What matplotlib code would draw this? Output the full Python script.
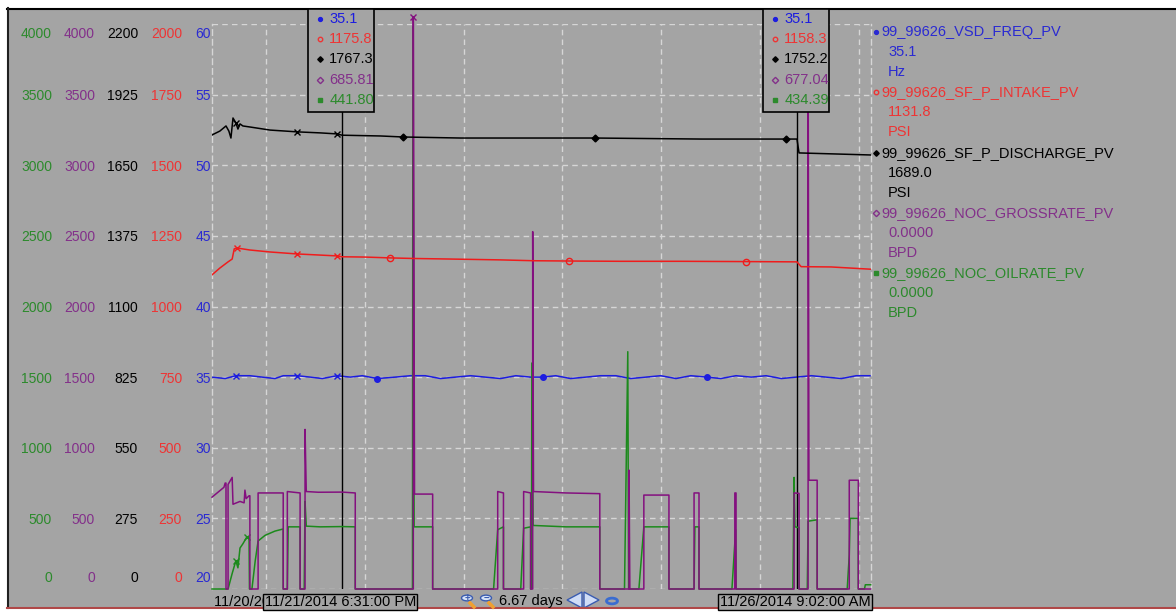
import numpy as np
import matplotlib
matplotlib.use('Agg')
import matplotlib.pyplot as plt
import matplotlib.dates as mdates
from matplotlib.patches import Rectangle, Polygon, Circle
from matplotlib.lines import Line2D
from matplotlib.transforms import ScaledTranslation, Bbox

plt.rcParams['font.family'] = ['Liberation Sans', 'DejaVu Sans']

W, H = 1176, 612
BG = '#a4a4a4'
GRID = '#d6d6d6'
BLUE, RED, BLACK, PURPLE, GREEN = '#1c1ce0', '#f01c1c', '#000000', '#84107f', '#1c8a1c'
BLUE_T, RED_T, PURPLE_T, GREEN_T = '#2a2ad2', '#ee3434', '#83308a', '#2c8a2c'

# time window
start = np.datetime64('2014-11-20T10:53')
span_days = 6.67
cursors = [np.datetime64('2014-11-21T18:31'), np.datetime64('2014-11-26T09:02')]
cursor_labels = ['11/21/2014 6:31:00 PM', '11/26/2014 9:02:00 AM']
start_label = '11/20/2014 10:53:00 AM'

# axis scales (left columns)
freq_ticks = [20, 25, 30, 35, 40, 45, 50, 55, 60]
intake_ticks = [0, 250, 500, 750, 1000, 1250, 1500, 1750, 2000]
discharge_ticks = [0, 275, 550, 825, 1100, 1375, 1650, 1925, 2200]
gross_ticks = [0, 500, 1000, 1500, 2000, 2500, 3000, 3500, 4000]
oil_ticks = [0, 500, 1000, 1500, 2000, 2500, 3000, 3500, 4000]

# VSD frequency (Hz), hours since start
freq_h = [0, 3.2, 5.8, 9.2, 12.2, 15.3, 17.3, 20.7, 23.9, 26.8, 30.4, 33.6, 36.5, 40.2,
          44.5, 48.2, 51.8, 55.5, 59.1, 62.8, 66.4, 70.1, 73.8, 77.4, 80.3, 83.5, 87.1,
          90.8, 94.4, 98.1, 101.7, 105.4, 109.0, 112.7, 116.3, 120.2, 123.6, 127.3,
          131.0, 134.6, 138.3, 141.9, 145.6, 149.2, 152.9, 156.5, 160.0]
freq_v = [35.0, 34.9, 35.1, 35.1, 35.0, 34.9, 35.1, 35.1, 35.0, 34.9, 35.1, 35.0, 35.1,
          34.9, 35.0, 35.1, 35.1, 34.9, 35.0, 35.1, 35.0, 34.9, 35.1, 35.0, 35.0, 35.1,
          34.9, 35.0, 35.1, 35.1, 34.9, 35.0, 35.1, 34.9, 35.1, 35.0, 34.9, 35.1, 35.0,
          35.1, 34.9, 35.0, 35.1, 35.0, 34.9, 35.1, 35.1]

# intake pressure (PSI)
intake_h = [0, 1.9, 3.9, 4.9, 5.4, 6.1, 9.2, 14.1, 20.7, 26.3, 30.4, 31.6, 37.2, 43.3,
            48.9, 57.9, 70.1, 78.1, 86.7, 99.3, 113.9, 129.7, 142.1, 143.1, 150.4, 160.0]
intake_v = [1112, 1136, 1158, 1168, 1204, 1207, 1200, 1193, 1186, 1182, 1179, 1176, 1175,
            1172, 1170, 1168, 1165, 1162, 1161, 1160, 1160, 1159, 1158, 1141, 1140, 1132]

# discharge pressure (PSI)
discharge_h = [0, 1.9, 3.4, 4.1, 4.6, 5.1, 5.8, 6.3, 6.8, 7.5, 9.2, 14.1, 20.7, 26.3,
               30.4, 31.6, 40.9, 46.5, 60.4, 77.4, 93.0, 118.8, 139.5, 142.1, 142.6, 160.0]
discharge_v = [1768, 1783, 1803, 1783, 1756, 1834, 1815, 1791, 1811, 1803, 1799, 1787,
               1780, 1776, 1772, 1767, 1764, 1760, 1756, 1756, 1756, 1752, 1752, 1752,
               1698, 1690]

# gross rate (BPD)
gross_h = [0.0, 2.9, 3.2, 3.4, 3.4, 3.9, 3.9, 4.9, 5.1, 6.8, 7.8, 8.0, 8.3, 9.0, 9.2, 9.2,
           11.2, 11.2, 17.3, 17.3, 18.3, 18.3, 21.4, 21.4, 22.6, 22.6, 22.9, 25.8, 31.6,
           34.8, 34.8, 48.9, 48.9, 49.2, 53.6, 53.6, 69.4, 69.4, 70.8, 70.8, 75.7, 75.7,
           77.4, 77.4, 77.9, 77.9, 78.1, 86.0, 94.2, 94.2, 101.3, 101.3, 101.5, 104.9,
           104.9, 111.0, 111.0, 117.1, 117.1, 118.3, 118.3, 127.0, 127.0, 127.3, 127.3,
           141.4, 141.4, 142.6, 142.6, 144.8, 144.8, 145.0, 147.0, 147.0, 154.8, 154.8,
           157.0, 157.0, 160.0]
gross_v = [650, 720, 750, 750, 0, 0, 740, 790, 600, 620, 610, 700, 640, 660, 660, 0,
           0, 680, 680, 0, 0, 690, 680, 0, 0, 1130, 690, 685, 686,
           680, 0, 0, 4050, 672, 672, 0, 0, 690, 680, 0, 0, 690,
           680, 0, 0, 2530, 690, 680, 675, 0, 0, 842, 0, 0,
           665, 665, 0, 0, 680, 680, 0, 0, 680, 680, 0,
           0, 680, 677, 0, 0, 4050, 770, 770, 0, 0, 770,
           770, 0, 0]

# oil rate (BPD)
oil_h = [0.0, 3.9, 4.9, 5.8, 6.3, 6.8, 7.5, 8.5, 9.0, 9.1, 9.7, 10.5, 11.2, 12.9, 15.3,
         17.3, 17.3, 18.3, 18.5, 21.4, 21.4, 22.4, 22.6, 22.9, 26.3, 31.6, 34.8, 34.8,
         48.7, 48.8, 49.1, 53.6, 53.6, 68.4, 69.4, 70.8, 70.8, 75.0, 75.7, 77.4, 77.4,
         77.6, 77.7, 78.0, 86.0, 94.2, 94.2, 100.2, 101.0, 101.2, 103.7, 104.9, 111.0,
         111.0, 117.1, 117.3, 118.3, 118.3, 126.3, 127.2, 127.3, 141.1, 141.4, 141.6,
         142.6, 142.6, 144.6, 144.8, 147.0, 147.0, 154.3, 154.8, 155.0, 157.0, 157.0,
         158.5, 158.7, 160.0]
oil_v = [0, 0, 110, 200, 150, 290, 320, 370, 360, 0, 0, 200, 340, 380, 410,
         425, 0, 0, 440, 440, 0, 0, 620, 445, 440, 442, 440, 0,
         0, 3980, 440, 440, 0, 0, 420, 440, 0, 0, 430, 440, 0,
         0, 1600, 450, 440, 440, 0, 0, 1680, 0, 0, 440, 440,
         0, 0, 440, 440, 0, 0, 420, 0, 0, 790, 440,
         434, 0, 0, 480, 490, 0, 0, 240, 500, 500, 0,
         0, 30, 30]

readouts = [['35.1', '1175.8', '1767.3', '685.81', '441.80'],
            ['35.1', '1158.3', '1752.2', '677.04', '434.39']]
tag_names = ['99_99626_VSD_FREQ_PV', '99_99626_SF_P_INTAKE_PV', '99_99626_SF_P_DISCHARGE_PV',
             '99_99626_NOC_GROSSRATE_PV', '99_99626_NOC_OILRATE_PV']
tag_values = ['35.1', '1131.8', '1689.0', '0.0000', '0.0000']
tag_units = ['Hz', 'PSI', 'PSI', 'BPD', 'BPD']
tag_colors = [BLUE_T, RED_T, BLACK, PURPLE_T, GREEN_T]
tag_markers = [('o', 3.5, True), ('o', 4, False), ('D', 3.5, True), ('D', 4, False), ('s', 3.5, True)]


def to_time(hours):
    return start + (np.array(hours) * 3600).astype('timedelta64[s]')


def fxy(x, y):
    # image pixel (top-left origin) -> figure fraction
    return x / W, 1 - y / H


fig = plt.figure(figsize=(W / 100, H / 100), dpi=100, facecolor=BG)

# window frame
fig.add_artist(Rectangle((0, 1 - 8 / H), 1, 8 / H, transform=fig.transFigure, fc='white', ec='none'))
fig.add_artist(Rectangle((0, 0), 7 / W, 1, transform=fig.transFigure, fc='white', ec='none'))
fig.add_artist(Rectangle((0, 0), 1, 3 / H, transform=fig.transFigure, fc='white', ec='none'))
fig.add_artist(Line2D([7 / W, 1], [1 - 8.5 / H] * 2, transform=fig.transFigure, color='black', lw=1.5))
fig.add_artist(Line2D([7.5 / W] * 2, [1 - 8 / H, 4 / H], transform=fig.transFigure, color='#202020', lw=1.5))
fig.add_artist(Line2D([7 / W, 1], [4 / H] * 2, transform=fig.transFigure, color='#b04848', lw=1.5))

ax = fig.add_axes([212 / W, 23 / H, 659 / W, 565 / H])
ax.set_facecolor('none')
ax.set_xlim(start, start + np.timedelta64(int(span_days * 86400), 's'))
ax.set_ylim(20, 60)
ax.set_yticks(freq_ticks)
ax.xaxis.set_major_locator(mdates.DayLocator())
ax.tick_params(axis='x', length=0, labelbottom=False)
ax.tick_params(axis='y', length=0, pad=0.7, labelcolor=BLUE_T, labelsize=10)
ax.grid(True, color=GRID, ls=(0, (4, 3)), lw=1)
for side in ['top', 'bottom']:
    ax.spines[side].set_visible(False)
for side in ['left', 'right']:
    ax.spines[side].set_linestyle((0, (4, 3)))
    ax.spines[side].set_color(GRID)
    ax.spines[side].set_linewidth(1)


def fix_end_labels(a):
    labels = a.get_yticklabels()
    labels[0].set_va('bottom')
    labels[0].set_transform(labels[0].get_transform() + ScaledTranslation(0, 3 / 72, fig.dpi_scale_trans))
    labels[-1].set_va('top')
    labels[-1].set_transform(labels[-1].get_transform() + ScaledTranslation(0, -2 / 72, fig.dpi_scale_trans))


fix_end_labels(ax)


def scale_axis(ticks, color, offset_px):
    t = ax.twinx()
    t.set_ylim(ticks[0], ticks[-1])
    t.set_yticks(ticks)
    t.yaxis.tick_left()
    t.spines['left'].set_position(('outward', offset_px * 0.72))
    for s in t.spines.values():
        s.set_visible(False)
    t.tick_params(axis='y', length=0, pad=0, labelcolor=color, labelsize=10)
    fix_end_labels(t)
    return t


ax_oil = scale_axis(oil_ticks, GREEN_T, 160)
ax_gross = scale_axis(gross_ticks, PURPLE_T, 117)
ax_dis = scale_axis(discharge_ticks, BLACK, 74)
ax_int = scale_axis(intake_ticks, RED_T, 30)

# series
ax.plot(to_time(freq_h), freq_v, color=BLUE, lw=1.1)
ax.plot(to_time(freq_h), freq_v, ls='none', marker='x', ms=4, color=BLUE, markevery=[2, 7, 10])
ax.plot(to_time(freq_h), freq_v, ls='none', marker='o', ms=4, color=BLUE, markevery=[13, 24, 35])

ax_oil.plot(to_time(oil_h), oil_v, color=GREEN, lw=1.1, clip_on=False)
ax_oil.plot(to_time(oil_h), oil_v, ls='none', marker='x', ms=4, color=GREEN, markevery=[3, 7])

ax_gross.plot(to_time(gross_h), gross_v, color=PURPLE, lw=1.1, clip_on=False)
ax_gross.plot(to_time(gross_h), gross_v, ls='none', marker='x', ms=5, color=PURPLE,
              markevery=[32], clip_on=False)

ax_dis.plot(to_time(discharge_h), discharge_v, color=BLACK, lw=1.1)
ax_dis.plot(to_time(discharge_h), discharge_v, ls='none', marker='x', ms=4, color=BLACK,
            markevery=[6, 12, 14])
ax_dis.plot(to_time(discharge_h), discharge_v, ls='none', marker='D', ms=3.5, color=BLACK,
            markevery=[17, 20, 22])

ax_int.plot(to_time(intake_h), intake_v, color=RED, lw=1.1)
ax_int.plot(to_time(intake_h), intake_v, ls='none', marker='x', ms=4, color=RED,
            markevery=[5, 8, 10])
ax_int.plot(to_time(intake_h), intake_v, ls='none', marker='o', ms=4.5, mfc='none', color=RED,
            markevery=[13, 18, 21])

# cursors
row_colors = [BLUE, RED_T, BLACK, PURPLE_T, GREEN_T]
box_bottom = 112
cursor_px = []
for c, vals, lab in zip(cursors, readouts, cursor_labels):
    ax.axvline(c, ymin=0, ymax=(589 - box_bottom) / 565, color='black', lw=1)
    cx = ax.transData.transform((mdates.date2num(c), 30))[0]
    cursor_px.append(cx)
    x0, y0 = fxy(cx - 34, box_bottom)
    fig.add_artist(Rectangle((x0, y0), 66 / W, (box_bottom - 9) / H, transform=fig.transFigure,
                             fc=BG, ec='black', lw=1.2, zorder=5))
    for i, v in enumerate(vals):
        ry = 19 + i * 20.2
        m, ms, filled = tag_markers[i]
        fig.add_artist(Line2D([fxy(cx - 22, ry)[0]], [fxy(cx - 22, ry)[1]], transform=fig.transFigure,
                              marker=m, ms=ms * 0.8, mec=row_colors[i],
                              mfc=row_colors[i] if filled else 'none', ls='none', zorder=6))
        fig.text(*fxy(cx - 13, ry), v, color=row_colors[i], fontsize=10.5, va='center', ha='left', zorder=6)
    fig.text(*fxy(cx - 2, 602), lab, fontsize=10.5, ha='center', va='center', zorder=7,
             bbox=dict(boxstyle='square,pad=0.1', fc=BG, ec='black', lw=1))

# start time label, hidden behind the first cursor's time box
start_text = fig.text(*fxy(214, 602), start_label, fontsize=10.5, ha='left', va='center', zorder=3)
start_text.set_clip_box(Bbox.from_extents(0, 0, cursor_px[0] - 79, H))
start_text.set_clip_on(True)

# right-hand tag list
for i in range(5):
    ny = 32 + i * 60.3
    m, ms, filled = tag_markers[i]
    fig.add_artist(Line2D([fxy(876, ny)[0]], [fxy(876, ny)[1]], transform=fig.transFigure,
                          marker=m, ms=ms * 0.8, mec=tag_colors[i],
                          mfc=tag_colors[i] if filled else 'none', ls='none'))
    fig.text(*fxy(881, ny), tag_names[i], color=tag_colors[i], fontsize=10.5, va='center')
    fig.text(*fxy(888, ny + 20), tag_values[i], color=tag_colors[i], fontsize=10.5, va='center')
    fig.text(*fxy(888, ny + 40), tag_units[i], color=tag_colors[i], fontsize=10.5, va='center')

# zoom / navigation controls
for zx, sign in [(467, '+'), (486, '\u2212')]:
    fig.add_artist(Line2D([fxy(zx + 3, 603)[0], fxy(zx + 7, 607)[0]], [fxy(zx + 3, 603)[1], fxy(zx + 7, 607)[1]],
                          transform=fig.transFigure, color='#f0a030', lw=2.5))
    fig.add_artist(Circle(fxy(zx, 598), 5.5 / W, transform=fig.transFigure, fc='#d8e4f8', ec='#3a5cb0', lw=1))
    fig.text(*fxy(zx, 598), sign, fontsize=7, color='#3a5cb0', ha='center', va='center', fontweight='bold')
fig.text(*fxy(499, 601), '6.67 days', fontsize=10.5, ha='left', va='center')
left_arrow = [fxy(567, 600), fxy(582, 592), fxy(582, 608)]
right_arrow = [fxy(584, 592), fxy(584, 608), fxy(599, 600)]
for pts in (left_arrow, right_arrow):
    fig.add_artist(Polygon(pts, closed=True, transform=fig.transFigure, fc='#cfdcf6', ec='#3a5cb0', lw=1))
fig.add_artist(Circle(fxy(612, 601), 5.5 / W, transform=fig.transFigure, fc='none', ec='#3a6cd0', lw=2))

fig.savefig('out.png', dpi=100, facecolor=BG)
